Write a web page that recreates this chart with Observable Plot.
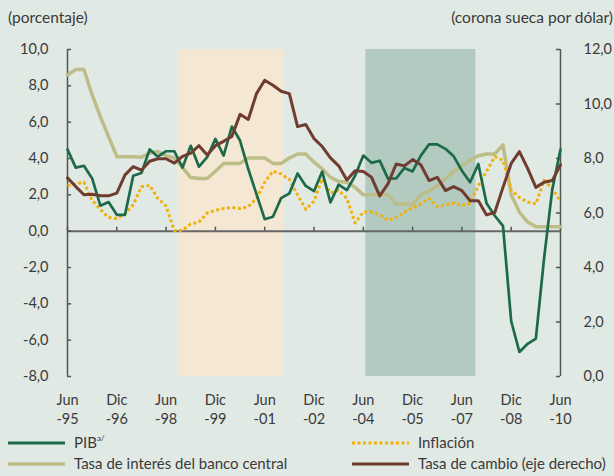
<!DOCTYPE html>
<html><head><meta charset="utf-8">
<script src="https://cdn.jsdelivr.net/npm/d3@7"></script>
<script src="https://cdn.jsdelivr.net/npm/@observablehq/plot@0.6"></script>
<style>
html,body{margin:0;padding:0;background:#e1e9e4;}
body{width:614px;height:476px;position:relative;overflow:hidden;font-family:Lato,sans-serif;color:#3a3a3a;}
#hdr-l{position:absolute;left:8px;top:8px;font-size:15.5px;}
#hdr-r{position:absolute;right:1px;top:8px;font-size:15.5px;}
#chart{position:absolute;left:0;top:30px;}
#legend{position:absolute;left:0;top:431px;}
</style></head><body>
<div id="hdr-l">(porcentaje)</div>
<div id="hdr-r">(corona sueca por dólar)</div>
<div id="chart"></div>
<svg id="legend" width="614" height="45"></svg>
<script>
// Quarterly observations, Jun-95 ... Jun-10
const pib = [4.5,3.5,3.6,2.9,1.4,1.6,0.9,0.9,3.05,3.2,4.5,4.1,4.4,4.4,3.5,4.7,
  3.55,4.07,5.08,4.16,5.76,4.99,3.42,2.04,0.66,0.79,1.82,2.08,3.18,2.49,2.2,
  3.28,1.58,2.56,2.26,3.05,4.16,3.76,3.88,2.89,2.9,3.48,3.29,4.16,4.78,4.78,
  4.53,4.12,3.33,2.69,3.7,1.53,0.85,0.29,-4.96,-6.65,-6.2,-5.91,-1.5,2.3,4.5];
const tasaInteres = [8.6,8.9,8.9,7.5,6.3,5.2,4.1,4.1,4.1,4.07,4.3,4.38,4.16,4.03,3.5,2.95,
  2.9,2.9,3.3,3.73,3.73,3.73,4.03,4.03,4.03,3.73,3.73,4.03,4.25,4.25,3.8,
  3.43,2.96,2.74,2.69,2.41,2.0,2.0,2.0,2.0,1.49,1.49,1.49,1.99,2.2,2.5,
  2.9,3.3,3.6,3.9,4.15,4.25,4.25,4.75,2.0,1.05,0.5,0.25,0.25,0.25,0.25];
const inflacion = [2.5,2.6,2.7,1.7,1.2,0.75,0.7,0.95,1.45,2.45,2.52,1.8,1.38,0.03,0.05,0.4,
  0.5,1.0,1.15,1.25,1.3,1.25,1.35,1.8,2.7,3.3,3.15,2.85,2.0,1.2,1.65,
  2.9,2.1,2.25,1.8,0.45,1.05,1.05,0.9,0.6,0.75,1.05,1.3,1.5,1.8,1.35,
  1.45,1.55,1.4,1.55,2.5,3.3,4.1,3.9,2.25,1.85,1.6,1.5,2.8,2.35,1.65];
const tasaCambio = [7.29,6.97,6.67,6.69,6.63,6.63,6.73,7.4,7.7,7.57,7.9,7.99,7.99,7.83,8.08,8.2,
  8.47,8.13,8.47,8.63,8.81,9.62,9.43,10.38,10.87,10.69,10.47,10.38,9.17,9.25,8.73,
  8.44,8.02,7.73,7.21,7.55,7.52,7.31,6.63,7.07,7.8,7.73,7.96,7.77,7.19,7.31,
  6.82,6.97,6.82,6.45,6.45,5.93,6.02,6.94,7.82,8.25,7.64,6.94,7.13,7.19,7.77];

const xTickMonths = ["Jun","Dic","Jun","Dic","Jun","Dic","Jun","Dic","Jun","Dic","Jun"];
const xTickYears = ["-95","-96","-98","-99","-01","-02","-04","-05","-07","-08","-10"];
const leftTicks = [-8,-6,-4,-2,0,2,4,6,8,10];
const rightTicks = [0,2,4,6,8,10,12];
// shaded periods, in quarters after Jun-95
const shadeStart = [13.4, 36.3];
const shadeEnd = [26.3, 49.7];

const colors = {pib:"#1c6a4a", tasa:"#bdbd88", infl:"#efb20c", cambio:"#6f3c2f",
  shade1:"#f4e8d4", shade2:"#b3cac1", axis:"#555555", text:"#3a3a3a"};

const n = pib.length;
const idx = d3.range(n);
const rows = s => idx.map(i => ({i, v: s[i]}));
const toLeft = v => v * 1.5 - 8;   // right axis 0..12 -> left axis -8..10
const fmt = v => d3.format(".1f")(v).replace("−","-").replace(".", ",");
const xTickIdx = xTickYears.map((_, k) => k * 6);
const shades = shadeStart.map((s, k) => ({a: s, b: shadeEnd[k], c: k === 0 ? colors.shade1 : colors.shade2}));

const chart = Plot.plot({
  width: 614, height: 400,
  marginLeft: 67, marginRight: 54, marginTop: 19, marginBottom: 54,
  x: {domain: [0, 60], axis: null},
  y: {domain: [-8, 10], axis: null},
  style: {background: "transparent", fontFamily: "Lato, sans-serif", fontSize: "14.5px", color: colors.text},
  marks: [
    Plot.rect(shades, {x1: "a", x2: "b", y1: -8, y2: 10, fill: "c"}),
    Plot.ruleX([0, 60], {y1: -8, y2: 10, stroke: colors.axis, strokeWidth: 1.5}),
    Plot.ruleY([0], {stroke: "#666", strokeWidth: 2}),
    Plot.ruleY(leftTicks, {x1: 0, x2: 0.5, stroke: colors.axis, strokeWidth: 1.5}),
    Plot.ruleY(rightTicks.map(toLeft), {x1: 59.5, x2: 60, stroke: colors.axis, strokeWidth: 1.5}),
    Plot.ruleX(xTickIdx, {y1: 0, y2: 0.22, stroke: colors.axis, strokeWidth: 1.5}),
    Plot.axisY(leftTicks, {anchor: "left", label: null, tickSize: 0, tickPadding: 19, tickFormat: fmt}),
    Plot.axisY(rightTicks.map(toLeft), {anchor: "right", label: null, tickSize: 0, tickPadding: 23, tickFormat: d => fmt((d + 8) / 1.5)}),
    Plot.axisX(xTickIdx, {anchor: "bottom", label: null, tickSize: 0, tickPadding: 18, tickFormat: d => xTickMonths[xTickIdx.indexOf(d)]}),
    Plot.axisX(xTickIdx, {anchor: "bottom", label: null, tickSize: 0, tickPadding: 37, tickFormat: d => xTickYears[xTickIdx.indexOf(d)]}),
    Plot.line(rows(tasaInteres), {x: "i", y: "v", stroke: colors.tasa, strokeWidth: 3.5}),
    Plot.line(rows(inflacion), {x: "i", y: "v", stroke: colors.infl, strokeWidth: 3, strokeDasharray: "3,2.5", strokeLinecap: "butt"}),
    Plot.line(rows(pib), {x: "i", y: "v", stroke: colors.pib, strokeWidth: 2.7}),
    Plot.line(rows(tasaCambio.map(toLeft)), {x: "i", y: "v", stroke: colors.cambio, strokeWidth: 3})
  ]
});
document.getElementById("chart").appendChild(chart);

// legend
const leg = d3.select("#legend");
const items = [
  {x: 8, y: 12, c: colors.pib, w: 3, dash: null, label: "PIB", sup: "a/"},
  {x: 352, y: 12, c: colors.infl, w: 3, dash: "3,2.5", label: "Inflación"},
  {x: 8, y: 33, c: colors.tasa, w: 3.5, dash: null, label: "Tasa de interés del banco central"},
  {x: 352, y: 33, c: colors.cambio, w: 3, dash: null, label: "Tasa de cambio (eje derecho)"}
];
for (const it of items) {
  leg.append("line").attr("x1", it.x).attr("x2", it.x + 57).attr("y1", it.y).attr("y2", it.y)
    .attr("stroke", it.c).attr("stroke-width", it.w).attr("stroke-dasharray", it.dash);
  const t = leg.append("text").attr("x", it.x + 66).attr("y", it.y + 5)
    .attr("font-family", "Lato, sans-serif").attr("font-size", 15).attr("fill", colors.text).text(it.label);
  if (it.sup) t.append("tspan").attr("font-size", 8).attr("dy", -7).text(it.sup);
}
</script>
</body></html>
